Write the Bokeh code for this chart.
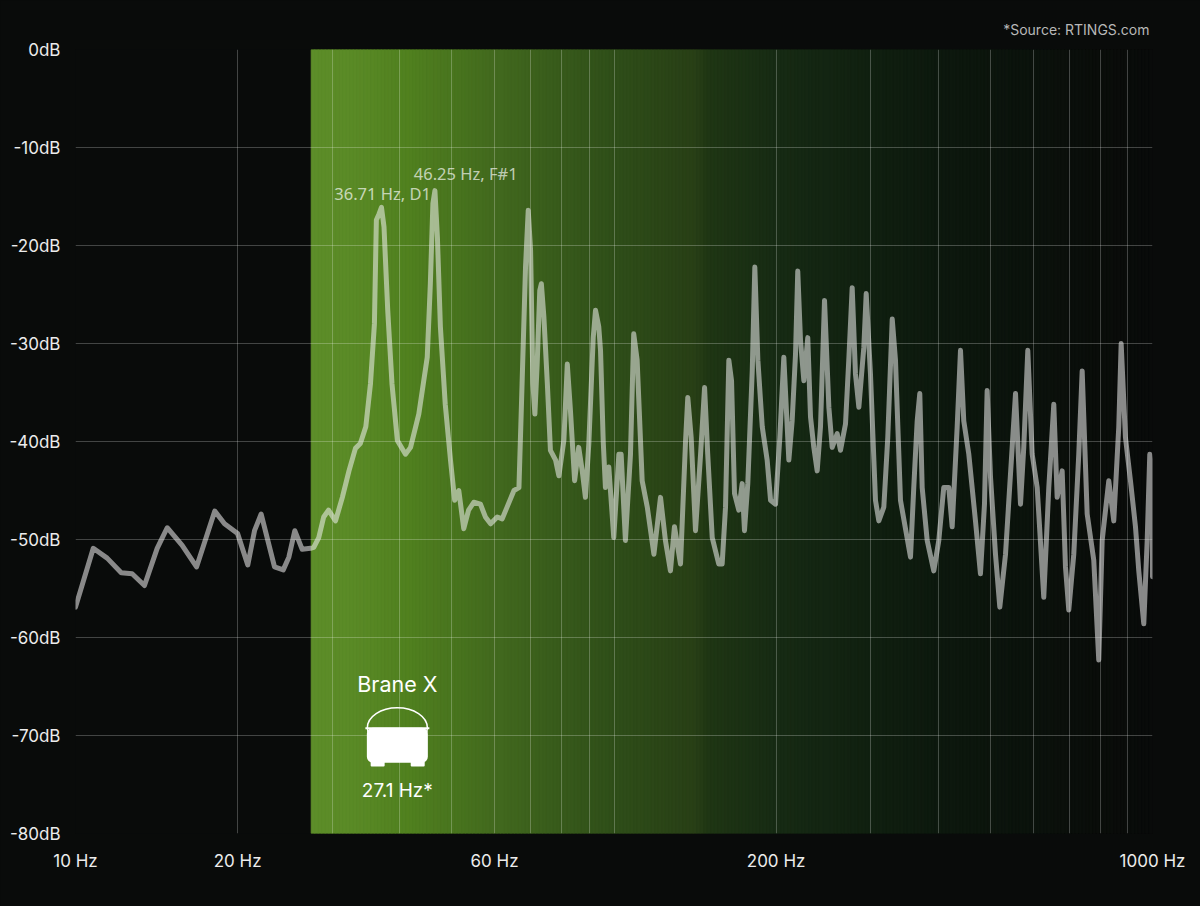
import numpy as np
from bokeh.plotting import figure
from bokeh.models import Range1d, FixedTicker
from bokeh.core.properties import value
from bokeh.embed import file_html
from bokeh.resources import INLINE

# ---------------- data ----------------
freq_hz = [
    10.0, 10.79, 11.45, 12.16, 12.74, 13.43, 14.18, 14.80, 15.78, 16.78,
    18.14, 18.91, 20.0, 20.89, 21.5, 22.12, 23.42, 24.31, 24.9, 25.54,
    26.36, 27.31, 27.7, 28.3, 28.9, 29.5, 30.4, 31.3, 32.2, 33.1,
    33.8, 34.6, 35.3, 35.9, 36.2, 36.6, 37.0, 37.4, 38.0, 38.7,
    39.6, 41.0, 41.9, 43.4, 45.0, 45.6, 46.1, 46.5, 47.0, 47.6,
    48.6, 49.7, 50.6, 51.5, 52.6, 53.7, 54.9, 56.5, 57.7, 59.0,
    60.7, 62.0, 63.3, 65.2, 66.6, 67.5, 68.5, 69.3, 70.0, 70.7,
    71.3, 72.0, 72.8, 73.3, 74.1, 75.2, 76.2, 77.9, 79.0, 80.7,
    81.9, 83.0, 84.5, 86.0, 87.3, 88.5, 89.8, 91.5, 92.4, 93.7,
    94.4, 95.5, 96.4, 97.8, 99.9, 102.1, 103.1, 105.0, 107.3, 108.8,
    110.4, 112.8, 115.3, 118.6, 122.0, 124.6, 127.3, 129.5, 132.9, 135.8,
    137.1, 139.1, 141.7, 144.8, 147.3, 149.3, 152.2, 156.5, 158.8, 161.1,
    163.4, 165.3, 167.4, 170.5, 173.0, 174.7, 177.2, 180.6, 182.6, 185.0,
    188.5, 192.5, 195.3, 199.5, 203.2, 206.7, 211.2, 214.2, 217.3, 219.4,
    222.0, 225.2, 229.0, 231.7, 235.0, 238.4, 241.8, 246.0, 250.6, 254.2,
    259.7, 263.4, 269.1, 272.9, 276.9, 280.8, 284.9, 291.0, 294.0, 299.4,
    305.9, 310.3, 317.0, 322.4, 328.6, 333.2, 340.4, 355.3, 360.3, 365.6,
    369.7, 373.5, 381.6, 392.5, 401.0, 409.6, 418.5, 424.6, 433.8, 440.0,
    446.2, 455.9, 469.1, 479.2, 487.5, 493.1, 500.2, 511.0, 520.5, 533.4,
    544.9, 556.7, 568.7, 576.7, 586.7, 597.8, 610.8, 628.2, 641.8, 655.7,
    665.2, 679.6, 689.3, 699.1, 714.2, 729.6, 740.3, 756.3, 777.9, 794.7,
    806.4, 829.5, 847.4, 865.7, 874.6, 890.8, 910.1, 929.8, 943.0, 963.4,
    977.5, 988.4, 998.7, 1000.0,
]
level_db = [
    -56.9, -50.9, -51.9, -53.4, -53.5, -54.7, -50.9, -48.8, -50.6, -52.8,
    -47.1, -48.4, -49.4, -52.6, -49.1, -47.4, -52.8, -53.1, -51.8, -49.1,
    -51.0, -50.9, -50.8, -49.8, -47.7, -47.0, -48.1, -45.7, -43.0, -40.7,
    -40.2, -38.5, -34.1, -28.0, -17.4, -16.8, -16.1, -18.1, -26.6, -34.1,
    -39.9, -41.3, -40.6, -37.2, -31.4, -23.9, -15.7, -14.4, -19.2, -28.3,
    -36.2, -41.9, -46.0, -45.0, -48.9, -47.0, -46.2, -46.4, -47.7, -48.4,
    -47.7, -47.9, -46.7, -45.0, -44.7, -34.1, -22.2, -16.4, -20.5, -34.1,
    -37.2, -32.1, -24.6, -23.9, -27.3, -34.1, -40.9, -41.9, -43.5, -39.9,
    -32.1, -36.8, -44.0, -40.6, -43.0, -45.7, -40.2, -29.4, -26.6, -28.3,
    -30.7, -40.0, -44.7, -42.6, -49.8, -41.3, -41.3, -50.1, -41.3, -29.0,
    -31.7, -44.0, -46.7, -51.5, -45.7, -50.1, -53.2, -48.7, -52.5, -39.9,
    -35.5, -39.6, -49.1, -41.3, -34.5, -41.3, -49.8, -52.5, -52.5, -46.7,
    -31.7, -33.8, -45.3, -47.0, -44.3, -49.1, -44.3, -32.8, -22.2, -31.7,
    -38.5, -41.9, -46.0, -46.4, -39.6, -31.4, -41.9, -37.9, -31.1, -22.6,
    -29.7, -33.8, -29.4, -37.5, -40.6, -43.0, -38.5, -25.6, -36.5, -40.6,
    -39.2, -40.9, -38.2, -31.7, -24.3, -33.1, -36.5, -30.4, -24.9, -33.1,
    -46.0, -48.1, -46.7, -39.6, -27.5, -31.7, -46.0, -51.8, -44.7, -37.9,
    -35.1, -44.7, -50.1, -53.2, -50.1, -44.7, -44.7, -48.7, -38.5, -30.7,
    -37.9, -41.3, -48.1, -53.5, -46.4, -34.8, -43.6, -51.5, -56.9, -51.5,
    -43.3, -35.1, -46.4, -40.6, -30.7, -41.3, -44.7, -55.9, -44.7, -36.2,
    -45.7, -43.0, -52.8, -57.2, -51.5, -41.3, -32.8, -47.4, -52.1, -62.3,
    -50.1, -44.0, -48.1, -38.5, -30.0, -39.6, -44.0, -48.7, -53.2, -58.6,
    -50.1, -41.3, -43.0, -53.8,
]

x_ticks = [10, 20, 60, 200, 1000]
x_tick_labels = ["10 Hz", "20 Hz", "60 Hz", "200 Hz", "1000 Hz"]
y_ticks = [-80, -70, -60, -50, -40, -30, -20, -10, 0]
y_tick_labels = ["-80dB", "-70dB", "-60dB", "-50dB", "-40dB", "-30dB", "-20dB", "-10dB", "0dB"]
grid_freqs = [10, 20, 30, 40, 50, 60, 70, 80, 90, 100,
              200, 300, 400, 500, 600, 700, 800, 900, 1000]

note_freqs = [36.71, 46.25]
note_peaks_db = [-16.1, -14.4]
note_labels = ["36.71 Hz, D1", "46.25 Hz, F#1"]

speaker_name = "Brane X"
speaker_low_hz = 27.1
speaker_label = "27.1 Hz*"
band_start_hz = 27.4
source_text = "*Source: RTINGS.com"

# ---------------- styling ----------------
BG = "#090b0a"
FONT = "Inter"

grad_stops_hz = [27.4, 33.1, 41.9, 59.5, 100.7, 141.7, 150.0, 199.5, 299.0, 396.0, 606.0, 801.0, 1000.0]
grad_stops_col = ["#5d8d29", "#5a8a26", "#50801f", "#426a1e", "#2f4e19", "#283f16",
                  "#1f3614", "#172b14", "#102010", "#0d190e", "#0b120c", "#0a0d0a", "#090b0a"]


def hex2rgb(h):
    h = h.lstrip("#")
    return np.array([int(h[i:i + 2], 16) for i in (0, 2, 4)], dtype=float)


stop_logs = np.log10(grad_stops_hz)
stop_rgb = np.array([hex2rgb(c) for c in grad_stops_col])
edges = np.geomspace(band_start_hz, 1000.0, 241)
mids = np.sqrt(edges[:-1] * edges[1:])
lm = np.log10(mids)
strip_cols = []
for v in lm:
    r = np.interp(v, stop_logs, stop_rgb[:, 0])
    g = np.interp(v, stop_logs, stop_rgb[:, 1])
    b = np.interp(v, stop_logs, stop_rgb[:, 2])
    strip_cols.append("#%02x%02x%02x" % (int(round(r)), int(round(g)), int(round(b))))

p = figure(
    x_axis_type="log",
    x_range=Range1d(10, 1000),
    y_range=Range1d(-80, 0),
    frame_width=1077,
    frame_height=784,
    min_border_left=75,
    min_border_right=48,
    min_border_top=49,
    min_border_bottom=73,
    output_backend="svg",
    toolbar_location=None,
    background_fill_color=BG,
    border_fill_color=BG,
    outline_line_color=None,
)

# source note as the title (top right)
p.title.text = source_text
p.title.align = "right"
p.title.text_font = FONT
p.title.text_font_size = "14px"
p.title.text_font_style = "normal"
p.title.text_color = "#b8b8b8"
p.title.offset = 3
p.title.standoff = 23

# gradient band
p.quad(left=edges[:-1], right=edges[1:], bottom=-80, top=0,
       fill_color=strip_cols, line_color=strip_cols, line_width=1, level="image")

# grid
p.xgrid.ticker = FixedTicker(ticks=grid_freqs)
p.ygrid.ticker = FixedTicker(ticks=y_ticks)
for g in (p.xgrid, p.ygrid):
    g.grid_line_color = "#ffffff"
    g.grid_line_alpha = 0.24
    g.grid_line_width = 1
    g.level = "underlay"

# axes
p.xaxis.ticker = FixedTicker(ticks=x_ticks)
p.xaxis.major_label_overrides = {t: l for t, l in zip(x_ticks, x_tick_labels)}
p.yaxis.ticker = FixedTicker(ticks=y_ticks)
p.yaxis.major_label_overrides = {t: l for t, l in zip(y_ticks, y_tick_labels)}
for ax in (p.xaxis, p.yaxis):
    ax.axis_line_color = None
    ax.major_tick_line_color = None
    ax.minor_tick_line_color = None
    ax.major_tick_out = 0
    ax.major_tick_in = 0
    ax.minor_tick_out = 0
    ax.minor_tick_in = 0
    ax.major_label_text_color = "#ececec"
    ax.major_label_text_font = FONT
    ax.major_label_text_font_size = "17px"
p.xaxis.major_label_standoff = 17
p.yaxis.major_label_standoff = 15

# response line
p.line(freq_hz, level_db, line_color="#f2f2f2", line_alpha=0.55, line_width=5,
       line_join="round", line_cap="round")

# note labels
p.text(x=[note_freqs[0]], y=[note_peaks_db[0]], text=[note_labels[0]],
       x_offset=3, y_offset=-14, text_align="center", text_baseline="alphabetic",
       text_font=value("Noto Sans"), text_font_size="16.5px",
       text_color="#ffffff", text_alpha=0.68)
p.text(x=[note_freqs[1]], y=[note_peaks_db[1]], text=[note_labels[1]],
       x_offset=32, y_offset=-17, text_align="center", text_baseline="alphabetic",
       text_font=value("Noto Sans"), text_font_size="16.5px",
       text_color="#ffffff", text_alpha=0.68)

# speaker badge
badge_x = 39.6
p.text(x=[badge_x], y=[-64.7], text=[speaker_name], text_align="center", text_baseline="middle",
       text_font=value(FONT), text_font_size="21.5px", text_color="#ffffff")
p.ellipse(x=[badge_x], y=[-69.2], width=60, height=40, width_units="screen", height_units="screen",
          fill_color=None, line_color="#ffffff", line_width=1.5)
p.rect(x=[badge_x], y=[-69.25], width=64, height=2, width_units="screen", height_units="screen",
       fill_color="#ffffff", line_color=None)
p.rect(x=[badge_x], y=[-71.0], width=61, height=35, width_units="screen", height_units="screen",
       fill_color="#ffffff", line_color=None, border_radius=6)
p.rect(x=[36.4, 43.2], y=[-72.9, -72.9], width=14, height=5, width_units="screen",
       height_units="screen", fill_color="#ffffff", line_color=None, border_radius=1)
p.text(x=[badge_x], y=[-75.6], text=[speaker_label], text_align="center", text_baseline="middle",
       text_font=value(FONT), text_font_size="19px", text_color="#ffffff")

html = file_html(p, INLINE)
html = html.replace("<head>", "<head><style>html,body{background:%s;}</style>" % BG, 1)
open("out.html", "w").write(html)
